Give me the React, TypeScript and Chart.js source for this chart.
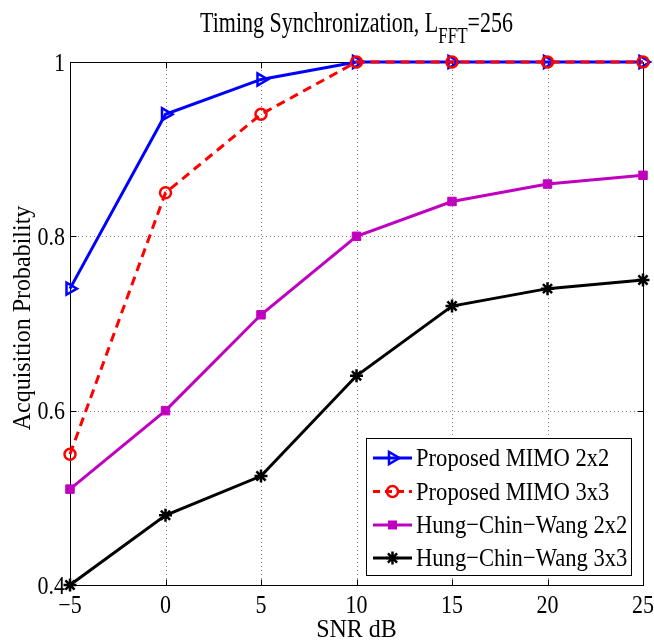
import React, { useEffect, useRef } from "react";
import { Chart, registerables } from "chart.js";

Chart.register(...registerables);

// SNR (dB) values on the horizontal axis
const snrDb = [-5, 0, 5, 10, 15, 20, 25];

// Acquisition probability per scheme
const proposedMimo2x2 = [0.74, 0.94, 0.98, 1, 1, 1, 1];
const proposedMimo3x3 = [0.55, 0.85, 0.94, 1, 1, 1, 1];
const hungChinWang2x2 = [0.51, 0.6, 0.71, 0.8, 0.84, 0.86, 0.87];
const hungChinWang3x3 = [0.4, 0.48, 0.525, 0.64, 0.72, 0.74, 0.75];

const seriesNames = [
  "Proposed MIMO 2x2",
  "Proposed MIMO 3x3",
  "Hung\u2212Chin\u2212Wang 2x2",
  "Hung\u2212Chin\u2212Wang 3x3",
];

const xTickValues = [-5, 0, 5, 10, 15, 20, 25];
const yTickValues = [0.4, 0.6, 0.8, 1];

const SERIF = '"Liberation Serif", "Times New Roman", serif';

const BLUE = "#0000ff";
const RED = "#ff0000";
const MAGENTA = "#bf00bf";
const BLACK = "#000000";

const fmtX = (v: number) => (v < 0 ? "\u2212" + Math.abs(v) : String(v));
const fmtY = (v: number) => (v === 1 ? "1" : v.toFixed(1));

// text drawn slightly taller than the font's natural proportions
function tallText(ctx: CanvasRenderingContext2D, text: string, x: number, y: number, sy: number) {
  ctx.save();
  ctx.translate(x, y);
  ctx.scale(1, sy);
  ctx.fillText(text, 0, 0);
  ctx.restore();
}

function drawMarker(ctx: CanvasRenderingContext2D, style: string, x: number, y: number, color: string) {
  ctx.save();
  ctx.strokeStyle = color;
  ctx.fillStyle = color;
  ctx.lineWidth = 2.5;
  ctx.setLineDash([]);
  ctx.beginPath();
  if (style === "triangle") {
    const r = 7;
    ctx.moveTo(x + r, y);
    ctx.lineTo(x - r / 2, y - r * 0.866);
    ctx.lineTo(x - r / 2, y + r * 0.866);
    ctx.closePath();
    ctx.stroke();
  } else if (style === "circle") {
    ctx.arc(x, y, 5.5, 0, Math.PI * 2);
    ctx.stroke();
  } else if (style === "rect") {
    ctx.rect(x - 4.5, y - 4.5, 9, 9);
    ctx.fill();
  } else if (style === "star") {
    const r = 6.5;
    ctx.moveTo(x - r, y);
    ctx.lineTo(x + r, y);
    ctx.moveTo(x, y - r);
    ctx.lineTo(x, y + r);
    const d = r * Math.SQRT1_2;
    ctx.moveTo(x - d, y - d);
    ctx.lineTo(x + d, y + d);
    ctx.moveTo(x - d, y + d);
    ctx.lineTo(x + d, y - d);
    ctx.stroke();
  }
  ctx.restore();
}

const legendStyles = [
  { color: BLUE, dash: [] as number[], marker: "triangle" },
  { color: RED, dash: [7, 5], marker: "circle" },
  { color: MAGENTA, dash: [] as number[], marker: "rect" },
  { color: BLACK, dash: [] as number[], marker: "star" },
];

const framePlugin = {
  id: "matlabFrame",
  beforeDatasetsDraw(chart: any) {
    const { ctx, chartArea: a, scales } = chart;
    const xs = scales.x;
    const ys = scales.y;
    ctx.save();
    // dotted grid
    ctx.strokeStyle = "rgba(0,0,0,0.5)";
    ctx.lineWidth = 1;
    ctx.setLineDash([1, 3]);
    xTickValues.forEach((v) => {
      const px = Math.round(xs.getPixelForValue(v)) + 0.5;
      ctx.beginPath();
      ctx.moveTo(px, a.top);
      ctx.lineTo(px, a.bottom);
      ctx.stroke();
    });
    yTickValues.forEach((v) => {
      const py = Math.round(ys.getPixelForValue(v)) + 0.5;
      ctx.beginPath();
      ctx.moveTo(a.left, py);
      ctx.lineTo(a.right, py);
      ctx.stroke();
    });
    ctx.setLineDash([]);
    // frame
    ctx.strokeStyle = "#000";
    ctx.lineWidth = 1;
    const l = Math.round(a.left) + 0.5;
    const r = Math.round(a.right) + 0.5;
    const t = Math.round(a.top) + 0.5;
    const b = Math.round(a.bottom) + 0.5;
    ctx.strokeRect(l, t, r - l, b - t);
    // inward ticks on all four sides
    const tl = 6;
    ctx.beginPath();
    xTickValues.forEach((v) => {
      const px = Math.round(xs.getPixelForValue(v)) + 0.5;
      ctx.moveTo(px, b);
      ctx.lineTo(px, b - tl);
      ctx.moveTo(px, t);
      ctx.lineTo(px, t + tl);
    });
    yTickValues.forEach((v) => {
      const py = Math.round(ys.getPixelForValue(v)) + 0.5;
      ctx.moveTo(l, py);
      ctx.lineTo(l + tl, py);
      ctx.moveTo(r, py);
      ctx.lineTo(r - tl, py);
    });
    ctx.stroke();
    ctx.restore();
  },
  afterDraw(chart: any) {
    const { ctx, chartArea: a, scales } = chart;
    const xs = scales.x;
    const ys = scales.y;
    ctx.save();
    ctx.fillStyle = "#000";

    // tick labels
    ctx.font = `22px ${SERIF}`;
    ctx.textBaseline = "alphabetic";
    ctx.textAlign = "center";
    xs.ticks.forEach((t: any) => {
      tallText(ctx, fmtX(t.value), xs.getPixelForValue(t.value), a.bottom + 28, 1.15);
    });
    ctx.textAlign = "right";
    ys.ticks.forEach((t: any) => {
      tallText(ctx, fmtY(t.value), a.left - 5, ys.getPixelForValue(t.value) + 8.5, 1.15);
    });

    // axis titles
    ctx.font = `24px ${SERIF}`;
    ctx.textAlign = "center";
    tallText(ctx, "SNR dB", (a.left + a.right) / 2, 637, 1.08);
    ctx.save();
    ctx.translate(30, 318);
    ctx.rotate(-Math.PI / 2);
    ctx.scale(1, 1.08);
    ctx.fillText("Acquisition Probability", 0, 0);
    ctx.restore();

    // title with subscript
    const mainFont = `22px ${SERIF}`;
    const subFont = `17px ${SERIF}`;
    const part1 = "Timing Synchronization, L";
    const sub = "FFT";
    const part2 = "=256";
    ctx.font = mainFont;
    const w1 = ctx.measureText(part1).width;
    const w3 = ctx.measureText(part2).width;
    ctx.font = subFont;
    const w2 = ctx.measureText(sub).width;
    const total = w1 + w2 + w3;
    const cx = (a.left + a.right) / 2;
    const x0 = cx - total / 2;
    ctx.save();
    ctx.translate(0, 32);
    ctx.scale(1, 1.3);
    ctx.textAlign = "left";
    ctx.font = mainFont;
    ctx.fillText(part1, x0, 0);
    ctx.font = subFont;
    ctx.fillText(sub, x0 + w1, 8.5);
    ctx.font = mainFont;
    ctx.fillText(part2, x0 + w1 + w2, 0);
    ctx.restore();

    // legend box
    const bx = 366.5;
    const by = 438.5;
    const bw = 265;
    const bh = 137;
    ctx.fillStyle = "#fff";
    ctx.fillRect(bx, by, bw, bh);
    ctx.strokeStyle = "#000";
    ctx.lineWidth = 1;
    ctx.strokeRect(bx, by, bw, bh);
    const rowY = [458, 491.5, 525, 558];
    chart.data.datasets.forEach((ds: any, i: number) => {
      const st = legendStyles[i];
      const y = rowY[i];
      ctx.save();
      ctx.strokeStyle = st.color;
      ctx.lineWidth = 3;
      ctx.setLineDash(st.dash);
      ctx.beginPath();
      ctx.moveTo(373, y);
      ctx.lineTo(412, y);
      ctx.stroke();
      ctx.restore();
      drawMarker(ctx, st.marker, 392.5, y, st.color);
      ctx.fillStyle = "#000";
      ctx.font = `22.6px ${SERIF}`;
      ctx.textAlign = "left";
      tallText(ctx, ds.label, 416, y + 8, 1.15);
    });
    ctx.restore();
  },
};

function toPoints(ys: number[]) {
  return snrDb.map((x, i) => ({ x, y: ys[i] }));
}

export default function App() {
  const canvasRef = useRef<HTMLCanvasElement | null>(null);

  useEffect(() => {
    const canvas = canvasRef.current;
    if (!canvas) return;
    const common = {
      borderWidth: 3,
      pointBorderWidth: 2.5,
      pointRadius: 6,
      pointHoverRadius: 6,
      clip: false as const,
      tension: 0,
    };
    const chart = new Chart(canvas, {
      type: "line",
      data: {
        datasets: [
          {
            ...common,
            label: seriesNames[0],
            data: toPoints(proposedMimo2x2),
            borderColor: BLUE,
            backgroundColor: "rgba(0,0,0,0)",
            pointBorderColor: BLUE,
            pointBackgroundColor: "rgba(0,0,0,0)",
            pointStyle: "triangle",
            pointRotation: 90,
            pointRadius: 7,
            pointHoverRadius: 7,
            order: 1,
          },
          {
            ...common,
            label: seriesNames[1],
            data: toPoints(proposedMimo3x3),
            borderColor: RED,
            borderDash: [9, 6],
            backgroundColor: "rgba(0,0,0,0)",
            pointBorderColor: RED,
            pointBackgroundColor: "rgba(0,0,0,0)",
            pointStyle: "circle",
            pointRadius: 5.5,
            pointHoverRadius: 5.5,
            order: 0,
          },
          {
            ...common,
            label: seriesNames[2],
            data: toPoints(hungChinWang2x2),
            borderColor: MAGENTA,
            backgroundColor: MAGENTA,
            pointBorderColor: MAGENTA,
            pointBackgroundColor: MAGENTA,
            pointStyle: "rect",
            pointRadius: 6,
            pointHoverRadius: 6,
            pointBorderWidth: 1,
            order: 2,
          },
          {
            ...common,
            label: seriesNames[3],
            data: toPoints(hungChinWang3x3),
            borderColor: BLACK,
            backgroundColor: BLACK,
            pointBorderColor: BLACK,
            pointBackgroundColor: BLACK,
            pointStyle: "star",
            pointRadius: 6.5,
            pointHoverRadius: 6.5,
            order: 3,
          },
        ],
      },
      options: {
        animation: false,
        responsive: false,
        maintainAspectRatio: false,
        devicePixelRatio: 1,
        layout: { padding: { left: 0, top: 62, right: 11, bottom: 0 } },
        plugins: {
          legend: { display: false },
          tooltip: { enabled: false },
          title: { display: false },
        },
        scales: {
          x: {
            type: "linear",
            min: -5,
            max: 25,
            ticks: { stepSize: 5, display: false },
            grid: { display: false },
            border: { display: false },
            afterFit: (s: any) => {
              s.height = 58;
            },
          },
          y: {
            type: "linear",
            min: 0.4,
            max: 1,
            ticks: { stepSize: 0.2, display: false },
            grid: { display: false },
            border: { display: false },
            afterFit: (s: any) => {
              s.width = 70;
            },
          },
        },
      },
      plugins: [framePlugin],
    });
    return () => chart.destroy();
  }, []);

  return (
    <div style={{ position: "fixed", left: 0, top: 0, width: 654, height: 643, background: "#fff" }}>
      <canvas ref={canvasRef} width={654} height={643} style={{ display: "block", width: 654, height: 643 }} />
    </div>
  );
}
